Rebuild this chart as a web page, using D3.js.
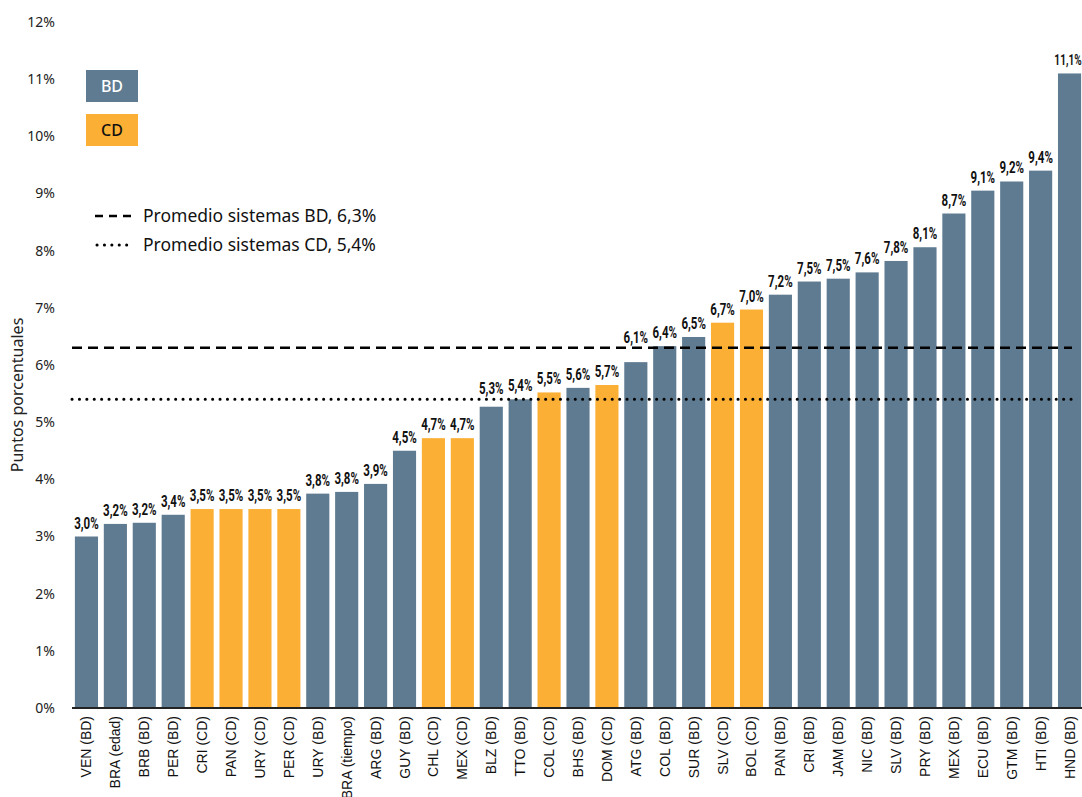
<!DOCTYPE html>
<html>
<head>
<meta charset="utf-8">
<script src="https://cdn.jsdelivr.net/npm/d3@7"></script>
<style>
  body { margin: 0; background: #fff; }
  svg { display: block; font-family: "Liberation Sans", Arial, sans-serif; }
</style>
</head>
<body>
<svg class="display"></svg>
<script>
const categories = [
  'VEN (BD)', 'BRA (edad)', 'BRB (BD)', 'PER (BD)', 'CRI (CD)', 'PAN (CD)', 'URY (CD)', 'PER (CD)',
  'URY (BD)', 'BRA (tiempo)', 'ARG (BD)', 'GUY (BD)', 'CHL (CD)', 'MEX (CD)', 'BLZ (BD)', 'TTO (BD)',
  'COL (CD)', 'BHS (BD)', 'DOM (CD)', 'ATG (BD)', 'COL (BD)', 'SUR (BD)', 'SLV (CD)', 'BOL (CD)',
  'PAN (BD)', 'CRI (BD)', 'JAM (BD)', 'NIC (BD)', 'SLV (BD)', 'PRY (BD)', 'MEX (BD)', 'ECU (BD)',
  'GTM (BD)', 'HTI (BD)', 'HND (BD)'
];
// system of each bar
const systems = [
  'BD', 'BD', 'BD', 'BD', 'CD', 'CD', 'CD', 'CD',
  'BD', 'BD', 'BD', 'BD', 'CD', 'CD', 'BD', 'BD',
  'CD', 'BD', 'CD', 'BD', 'BD', 'BD', 'CD', 'CD',
  'BD', 'BD', 'BD', 'BD', 'BD', 'BD', 'BD', 'BD',
  'BD', 'BD', 'BD'
];
const values = [
  3.0, 3.22, 3.24, 3.38, 3.48, 3.48, 3.48, 3.48,
  3.75, 3.78, 3.92, 4.5, 4.72, 4.72, 5.27, 5.4,
  5.52, 5.6, 5.65, 6.05, 6.33, 6.49, 6.74, 6.97,
  7.23, 7.46, 7.51, 7.62, 7.82, 8.06, 8.65, 9.05,
  9.21, 9.4, 11.1
];
const valueLabels = [
  '3,0%', '3,2%', '3,2%', '3,4%', '3,5%', '3,5%', '3,5%', '3,5%',
  '3,8%', '3,8%', '3,9%', '4,5%', '4,7%', '4,7%', '5,3%', '5,4%',
  '5,5%', '5,6%', '5,7%', '6,1%', '6,4%', '6,5%', '6,7%', '7,0%',
  '7,2%', '7,5%', '7,5%', '7,6%', '7,8%', '8,1%', '8,7%', '9,1%',
  '9,2%', '9,4%', '11,1%'
];
const yTicks = [0, 1, 2, 3, 4, 5, 6, 7, 8, 9, 10, 11, 12];
const averages = [
  { name: 'Promedio sistemas BD, 6,3%', value: 6.3, dash: '10,6', cap: 'butt' },
  { name: 'Promedio sistemas CD, 5,4%', value: 5.4, dash: '0.1,7.3', cap: 'round' }
];
const legendItems = ['BD', 'CD'];

const width = 1082;
const height = 797;
const color = { BD: '#5e7b91', CD: '#fbaf34' };

const svg = d3.select('.display')
  .attr('width', width)
  .attr('height', height);

const x = d3.scaleBand()
  .domain(categories)
  .range([72, 1084])
  .paddingInner(0.2)
  .paddingOuter(0.1);

const y = d3.scaleLinear()
  .domain([0, 12])
  .range([708, 22]);

// y axis labels (no axis line)
svg.append('g')
  .attr('transform', 'translate(55,0)')
  .call(d3.axisLeft(y).tickValues(yTicks).tickSize(0).tickPadding(0)
    .tickFormat(d => d + '%'))
  .call(g => g.select('.domain').remove())
  .selectAll('text')
    .attr('font-size', 14)
    .attr('font-family', '"Noto Sans", sans-serif')
    .attr('fill', '#222');

svg.append('text')
  .attr('transform', 'translate(23,' + 395 + ') rotate(-90)')
  .attr('text-anchor', 'middle')
  .attr('font-size', 16)
  .attr('font-family', '"Noto Sans", sans-serif')
  .attr('fill', '#222')
  .text('Puntos porcentuales');

// bars
svg.append('g').selectAll('rect')
  .data(values)
  .join('rect')
    .attr('x', (d, i) => x(categories[i]))
    .attr('y', d => y(d))
    .attr('width', x.bandwidth())
    .attr('height', d => y(0) - y(d))
    .attr('fill', (d, i) => color[systems[i]]);

// label baseline: lifted above an average line when it would cross it
function labelY(d) {
  let base = y(d) - 8;
  averages.forEach(a => {
    const ly = y(a.value);
    if (ly > base - 13 && ly < base + 3) base = ly - 5;
  });
  return base;
}

// value labels, condensed by a horizontal scale
svg.append('g').selectAll('text')
  .data(values)
  .join('text')
    .attr('transform', (d, i) => {
      let cx = x(categories[i]) + x.bandwidth() / 2;
      if (i === values.length - 1) cx = Math.min(cx, width - 14);
      return 'translate(' + cx + ',' + labelY(d) + ') scale(0.72,1)';
    })
    .attr('text-anchor', 'middle')
    .attr('font-family', 'Roboto, sans-serif')
    .attr('font-weight', 'bold')
    .attr('font-size', (d, i) => i === values.length - 1 ? 14 : 16)
    .attr('fill', '#111')
    .text((d, i) => valueLabels[i]);

// average lines
svg.append('g').selectAll('line')
  .data(averages)
  .join('line')
    .attr('x1', 72)
    .attr('x2', 1072)
    .attr('y1', d => y(d.value))
    .attr('y2', d => y(d.value))
    .attr('stroke', '#000')
    .attr('stroke-width', d => d.cap === 'round' ? 3 : 2.5)
    .attr('stroke-dasharray', d => d.dash)
    .attr('stroke-linecap', d => d.cap);

// baseline
svg.append('line')
  .attr('x1', 72).attr('x2', width)
  .attr('y1', y(0)).attr('y2', y(0))
  .attr('stroke', '#222')
  .attr('stroke-width', 2);

// x axis labels
svg.append('g').selectAll('text')
  .data(categories)
  .join('text')
    .attr('transform', d => 'translate(' + (x(d) + x.bandwidth() / 2 + 5) + ',716) rotate(-90)')
    .attr('text-anchor', 'end')
    .attr('font-size', 14)
    .attr('fill', '#111')
    .text(d => d);

// legend boxes
const legend = svg.append('g');
legend.selectAll('rect')
  .data(legendItems)
  .join('rect')
    .attr('x', 86)
    .attr('y', (d, i) => 70 + i * 44)
    .attr('width', 52)
    .attr('height', 32)
    .attr('fill', d => color[d]);
legend.selectAll('text')
  .data(legendItems)
  .join('text')
    .attr('x', 112)
    .attr('y', (d, i) => 86 + i * 44)
    .attr('dy', '0.35em')
    .attr('text-anchor', 'middle')
    .attr('font-family', '"Noto Sans", sans-serif')
    .attr('font-weight', 500)
    .attr('font-size', 16)
    .attr('fill', d => d === 'BD' ? '#fff' : '#111')
    .text(d => d);

// legend for averages
const avgLegend = svg.append('g').selectAll('g')
  .data(averages)
  .join('g')
    .attr('transform', (d, i) => 'translate(0,' + (216 + i * 29) + ')');
avgLegend.append('line')
  .attr('x1', d => d.cap === 'round' ? 97 : 95)
  .attr('x2', 134)
  .attr('stroke', '#000')
  .attr('stroke-width', d => d.cap === 'round' ? 3 : 2.5)
  .attr('stroke-dasharray', d => d.cap === 'round' ? '0.1,7.3' : '8,6')
  .attr('stroke-linecap', d => d.cap);
avgLegend.append('text')
  .attr('x', 143)
  .attr('dy', '0.35em')
  .attr('font-family', '"Noto Sans", sans-serif')
  .attr('font-size', 17.5)
  .attr('fill', '#111')
  .text(d => d.name);
</script>
</body>
</html>
